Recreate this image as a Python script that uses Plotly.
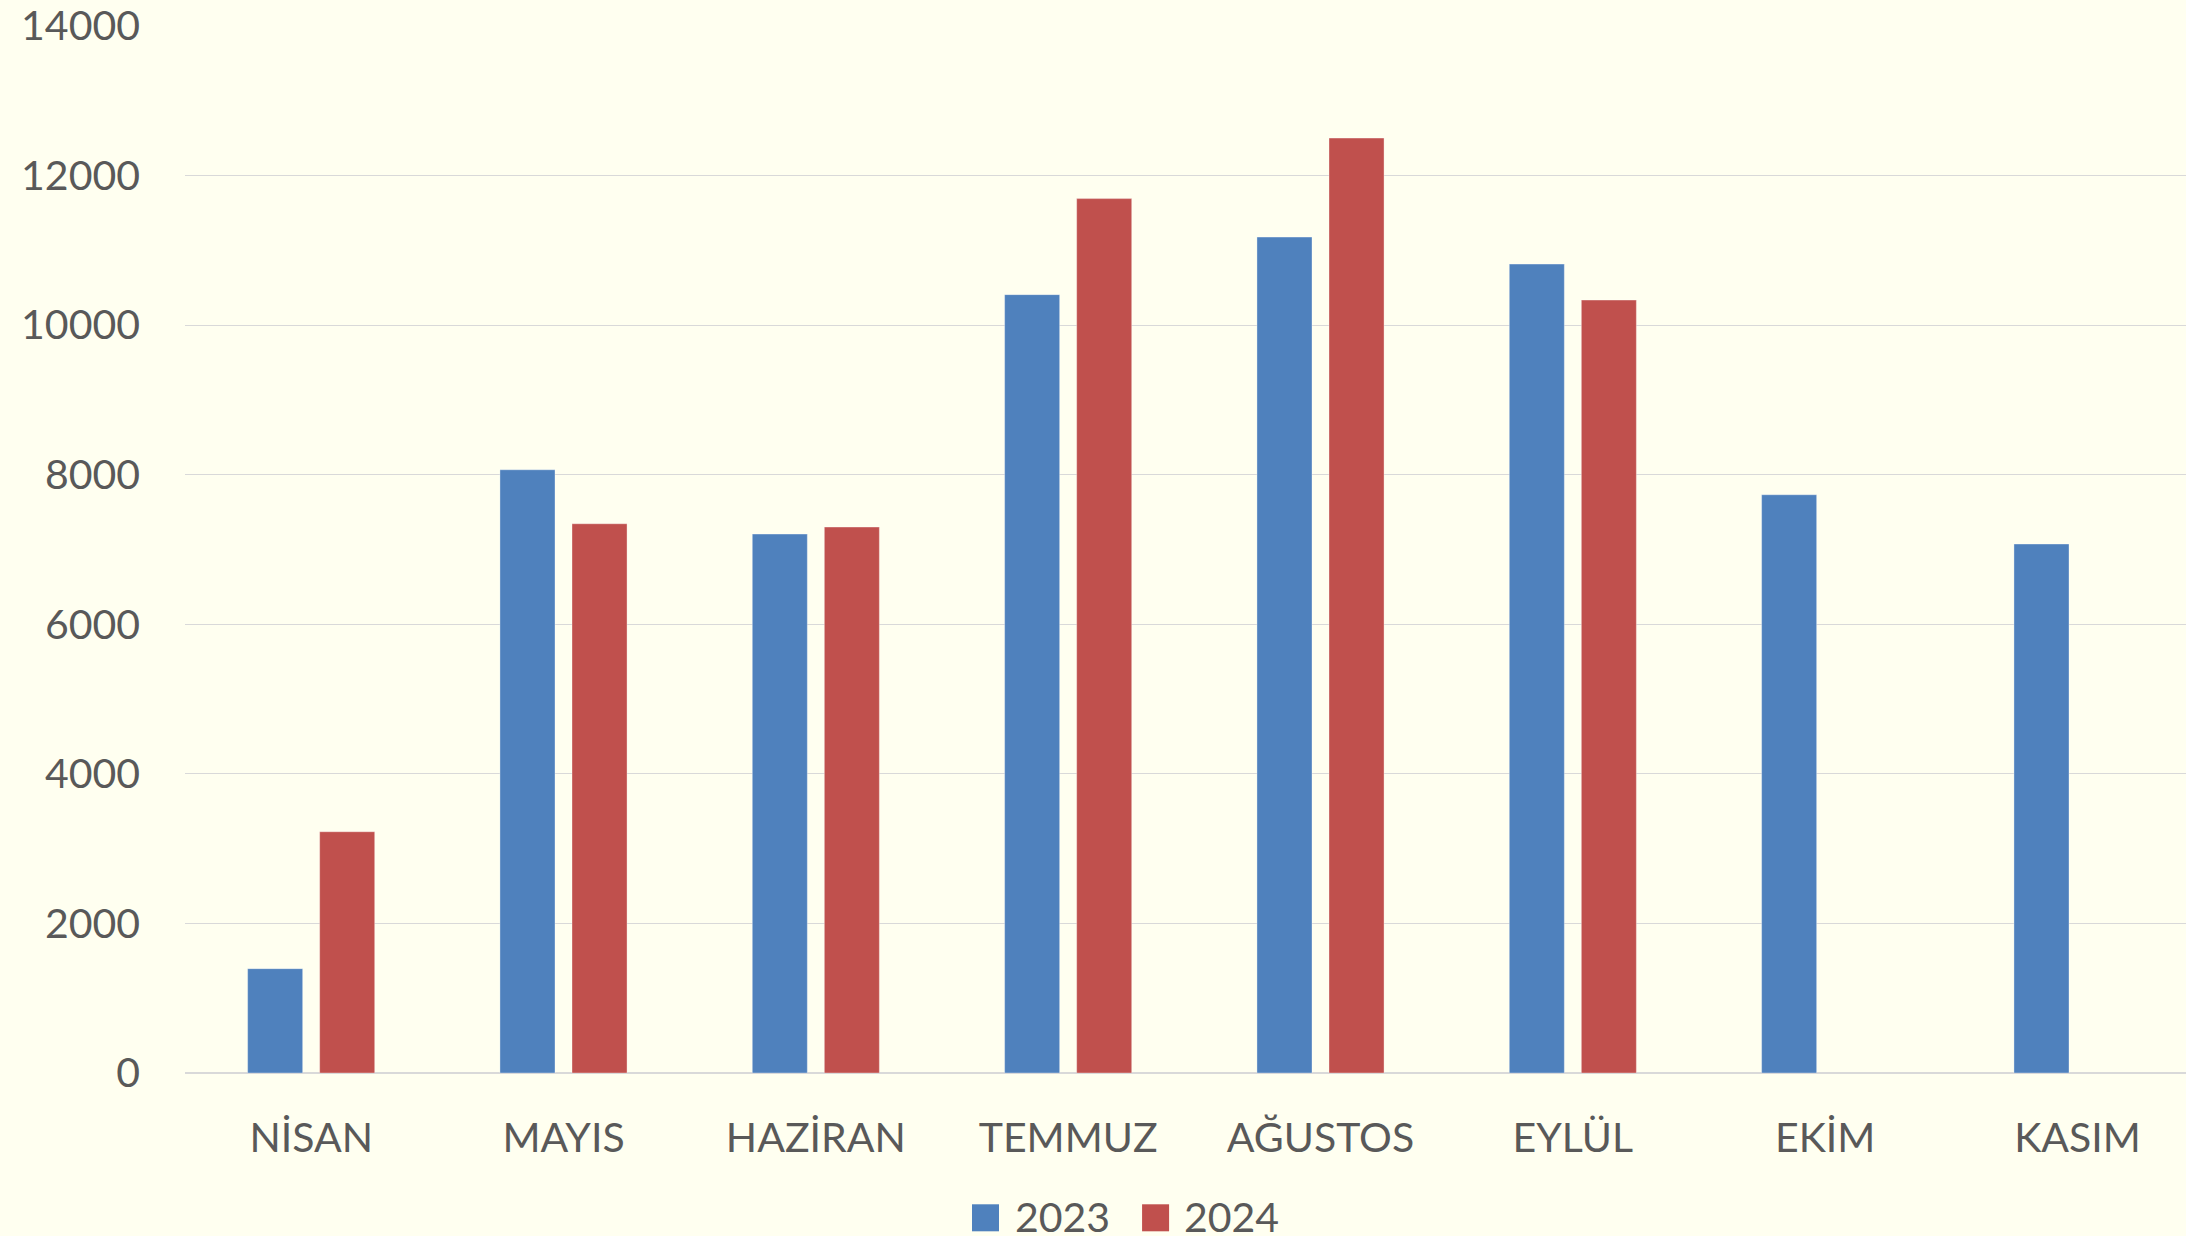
import plotly.graph_objects as go

aylar = ["NİSAN", "MAYIS", "HAZİRAN", "TEMMUZ", "AĞUSTOS", "EYLÜL", "EKİM", "KASIM"]
yil_2023 = [1395, 8066, 7206, 10408, 11177, 10816, 7732, 7073]
yil_2024 = [3226, 7344, 7300, 11692, 12501, 10335, None, None]
seriler = ["2023", "2024"]
renkler = ["#4F81BD", "#C0504D"]

yazi_rengi = "#595959"
font_adi = "Lato"

fig = go.Figure()
for ad, degerler, renk in zip(seriler, [yil_2023, yil_2024], renkler):
    fig.add_trace(go.Bar(
        x=aylar, y=degerler, name=ad,
        marker=dict(color=renk, line=dict(color="rgba(255,255,255,0.35)", width=1)),
        showlegend=False,
    ))

# elle cizilen lejant (kare isaretler + metin)
lejant_x = [(0.3933, 0.4068, 0.4138), (0.4783, 0.4918, 0.4983)]
for (x0, x1, xt), ad, renk in zip(lejant_x, seriler, renkler):
    fig.add_shape(type="rect", xref="paper", yref="paper",
                  x0=x0, x1=x1, y0=-0.1512, y1=-0.1254,
                  fillcolor=renk, line=dict(width=0))
    fig.add_annotation(xref="paper", yref="paper", x=xt, y=-0.1369,
                       xanchor="left", yanchor="middle", showarrow=False,
                       text=ad, font=dict(family=font_adi, size=41, color=yazi_rengi))

fig.update_layout(
    width=2186, height=1236,
    margin=dict(l=185, r=0, t=26, b=163),
    paper_bgcolor="#FFFFF0",
    plot_bgcolor="#FFFFF0",
    barmode="group",
    bargap=0.429,
    bargroupgap=0.236,
    font=dict(family=font_adi, size=41, color=yazi_rengi),
)
fig.update_xaxes(
    range=[-0.5, 7.43],
    showgrid=False,
    showline=False,
    ticks="",
    ticklabelstandoff=37,
    tickfont=dict(family=font_adi, size=41, color=yazi_rengi),
)
fig.update_yaxes(
    range=[0, 14000],
    dtick=2000,
    showgrid=True,
    gridcolor="#D9D9D9",
    gridwidth=1.3,
    zeroline=True,
    zerolinecolor="#D9D9D9",
    zerolinewidth=1.5,
    showline=False,
    ticks="",
    ticklabelstandoff=44,
    tickformat="d",
    tickfont=dict(family=font_adi, size=41, color=yazi_rengi),
)

fig.write_html("out.html", config={"displayModeBar": False},
               post_script="document.body.style.margin='0px';")
